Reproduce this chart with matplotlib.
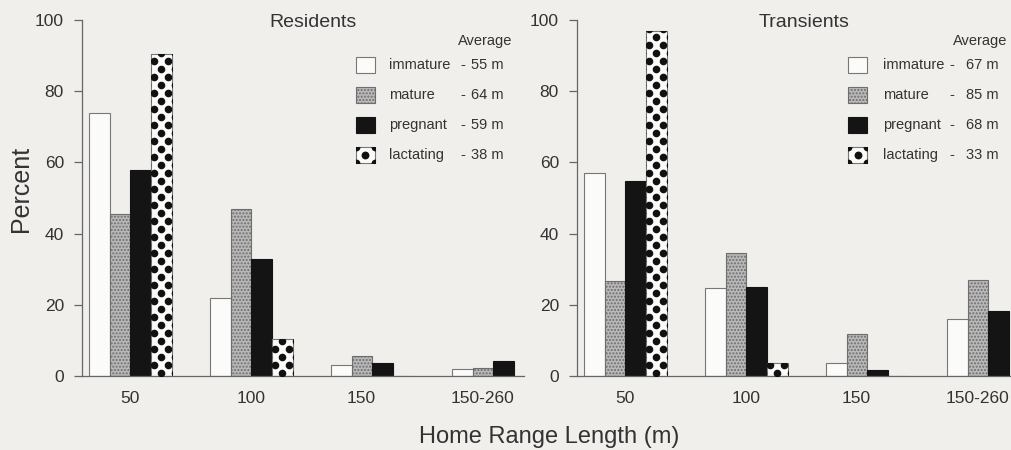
import numpy as np
import matplotlib
matplotlib.use('Agg')
import matplotlib.pyplot as plt
from matplotlib.patches import Rectangle

# --- Data ---
ranges = ['50', '100', '150', '150-260']
classes = ['immature', 'mature', 'pregnant', 'lactating']

residents = {
    'immature': [74, 22, 3, 2],
    'mature': [45.5, 47, 5.6, 2.3],
    'pregnant': [58, 33, 3.7, 4.3],
    'lactating': [90.5, 10.3, 0, 0],
}
transients = {
    'immature': [57, 24.7, 3.7, 16],
    'mature': [26.8, 34.6, 11.8, 27.1],
    'pregnant': [54.7, 24.9, 1.8, 18.3],
    'lactating': [96.8, 3.7, 0, 0],
}
resident_avg = [55, 64, 59, 38]
transient_avg = [67, 85, 68, 33]

# --- Style ---
plt.rcParams['font.family'] = ['Liberation Sans', 'DejaVu Sans']
TXT = '#333333'
LINE = '#666666'
BG = '#f0efec'
styles = {
    'immature': dict(facecolor='#fbfbfa', edgecolor='#777777', hatch=None),
    'mature': dict(facecolor='#b9b9b9', edgecolor='#6e6e6e', hatch='.....'),
    'pregnant': dict(facecolor='#141414', edgecolor='#141414', hatch=None),
    'lactating': dict(facecolor='#fbfbfa', edgecolor='#777777', hatch=None),
}

W, H = 1012, 450
AX_W, AX_H = 441.7, 356
BAR_W = 0.171
XLIM = (-0.40, 3.25)
TICK_SHIFT = [0.0, 0.0, -0.09, -0.09]  # labels sit a bit left of the last groups


def add_dots(ax, bar):
    # staggered dot texture, clipped to the bar
    px_x = (XLIM[1] - XLIM[0]) / AX_W
    px_y = 100 / AX_H
    x0, w, h = bar.get_x(), bar.get_width(), bar.get_height()
    cx = x0 + w / 2
    xs, ys = [], []
    row, y = 0, 3.0
    while y * px_y < h + 5 * px_y:
        offs = (-14, 0, 14) if row % 2 == 0 else (-7, 7)
        for o in offs:
            xs.append(cx + o * px_x)
            ys.append(y * px_y)
        row += 1
        y += 8.0
    sc = ax.scatter(xs, ys, s=30, color='#111111', linewidths=0, zorder=3)
    sc.set_clip_path(bar)


def panel(ax, data, avgs, title, lay):
    x = np.arange(len(ranges))
    for i, c in enumerate(classes):
        st = styles[c]
        bars = ax.bar(x + (i - 1.5) * BAR_W, data[c], BAR_W, align='center',
                      facecolor=st['facecolor'], edgecolor=st['edgecolor'],
                      hatch=st['hatch'], linewidth=0.8, zorder=2)
        if c == 'lactating':
            for b in bars:
                if b.get_height() > 0:
                    add_dots(ax, b)

    ax.set_xlim(*XLIM)
    ax.set_ylim(0, 100)
    ax.set_xticks(x + np.array(TICK_SHIFT))
    ax.set_xticklabels(ranges)
    ax.set_yticks(range(0, 101, 20))
    ax.tick_params(axis='x', length=0, pad=11, labelsize=12.5, labelcolor=TXT)
    ax.tick_params(axis='y', length=6, width=0.9, color=LINE, pad=7,
                   labelsize=12.5, labelcolor=TXT)
    for s in ['top', 'right']:
        ax.spines[s].set_visible(False)
    for s in ['left', 'bottom']:
        ax.spines[s].set_color(LINE)
        ax.spines[s].set_linewidth(0.9)
    ax.set_facecolor('none')

    ax.text(lay['title_x'], 0.994, title, transform=ax.transAxes,
            ha='center', va='center', fontsize=14, color=TXT)

    # hand-made legend with averages
    ax.text(0.9735, 0.941, 'Average', transform=ax.transAxes,
            ha='right', va='center', fontsize=10.5, color=TXT)
    sw, sh = 19 / AX_W, 16 / AX_H
    for k, (c, a) in enumerate(zip(classes, avgs)):
        yc = 0.874 - k * 0.0843
        st = styles[c]
        r = Rectangle((lay['sw_x'], yc - sh / 2), sw, sh, transform=ax.transAxes,
                      facecolor=st['facecolor'], edgecolor=st['edgecolor'],
                      hatch=st['hatch'], linewidth=0.8, clip_on=False, zorder=2)
        ax.add_patch(r)
        if c == 'lactating':
            dx = [lay['sw_x'] + sw / 2, lay['sw_x'], lay['sw_x'] + sw,
                  lay['sw_x'], lay['sw_x'] + sw]
            dy = [yc, yc - sh / 2, yc - sh / 2, yc + sh / 2, yc + sh / 2]
            d = ax.scatter(dx, dy, s=32, color='#111111', linewidths=0,
                           transform=ax.transAxes, clip_on=True, zorder=3)
            d.set_clip_path(r)
        ax.text(lay['txt_x'], yc, c, transform=ax.transAxes, ha='left',
                va='center', fontsize=10.5, color=TXT)
        ax.text(lay['dash_x'], yc, '-', transform=ax.transAxes, ha='center',
                va='center', fontsize=10.5, color=TXT)
        ax.text(0.955, yc, f'{a} m', transform=ax.transAxes, ha='right',
                va='center', fontsize=10.5, color=TXT)


fig = plt.figure(figsize=(W / 100, H / 100), dpi=100, facecolor=BG)
ax1 = fig.add_axes([82 / W, 74 / H, AX_W / W, AX_H / H])
ax2 = fig.add_axes([577 / W, 74 / H, AX_W / W, AX_H / H])

panel(ax1, residents, resident_avg, 'Residents',
      dict(title_x=0.523, sw_x=0.620, txt_x=0.695, dash_x=0.862))
panel(ax2, transients, transient_avg, 'Transients',
      dict(title_x=0.514, sw_x=0.614, txt_x=0.693, dash_x=0.849))

fig.text(21 / W, 1 - 189 / H, 'Percent', rotation=90, ha='center', va='center',
         fontsize=18, color=TXT)
fig.text(549 / W, 1 - 437 / H, 'Home Range Length (m)', ha='center', va='center',
         fontsize=17, color=TXT)

fig.savefig('out.png', dpi=100, facecolor=BG)
